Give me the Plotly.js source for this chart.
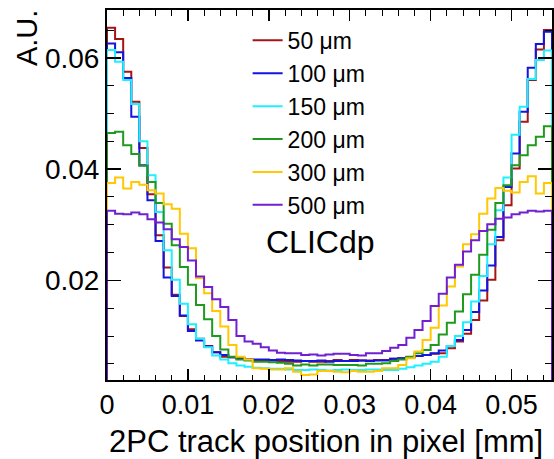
<!DOCTYPE html>
<html>
<head>
<meta charset="utf-8">
<script src="https://cdn.plot.ly/plotly-3.0.1.min.js"></script>
<style>html,body{margin:0;padding:0;background:#fff;}#chart{width:554px;height:459px;}</style>
</head>
<body>
<div id="chart"></div>
<script>
// Histogram: 55 bins of 1 um across a 55 um pixel (x in mm)
const nBins = 55;
const binWidth = 0.001;
const seriesLabels = ["50 \u03bcm", "100 \u03bcm", "150 \u03bcm", "200 \u03bcm", "300 \u03bcm", "500 \u03bcm"];
const seriesColors = ["#a51515", "#1414e0", "#1ef0ff", "#1f9a1f", "#ffc800", "#7020d0"];

const h50 = [0.0654,0.0634,0.0575,0.0521,0.0438,0.0355,0.0281,0.0223,0.0174,0.0136,
  0.0112,0.0095,0.0082,0.0071,0.0063,0.0062,0.0060,0.0058,0.0057,0.0056,
  0.0056,0.0055,0.0054,0.0054,0.0055,0.0054,0.0054,0.0055,0.0057,0.0055,
  0.0057,0.0056,0.0056,0.0057,0.0057,0.0059,0.0060,0.0062,0.0064,0.0066,
  0.0068,0.0069,0.0078,0.0090,0.0104,0.0129,0.0164,0.0201,0.0272,0.0335,
  0.0401,0.0485,0.0560,0.0615,0.0650];
const h100 = [0.0626,0.0610,0.0564,0.0494,0.0407,0.0344,0.0271,0.0205,0.0172,0.0137,
  0.0109,0.0092,0.0081,0.0071,0.0066,0.0062,0.0060,0.0058,0.0058,0.0058,
  0.0057,0.0058,0.0057,0.0056,0.0055,0.0055,0.0056,0.0054,0.0055,0.0055,
  0.0055,0.0056,0.0055,0.0056,0.0056,0.0059,0.0060,0.0062,0.0064,0.0066,
  0.0069,0.0074,0.0082,0.0093,0.0111,0.0143,0.0182,0.0227,0.0278,0.0368,
  0.0428,0.0503,0.0582,0.0625,0.0647];
const h150 = [0.0614,0.0593,0.0560,0.0517,0.0450,0.0389,0.0323,0.0254,0.0201,0.0158,
  0.0121,0.0095,0.0080,0.0065,0.0058,0.0051,0.0047,0.0045,0.0043,0.0042,
  0.0041,0.0041,0.0040,0.0039,0.0039,0.0040,0.0039,0.0038,0.0039,0.0040,
  0.0039,0.0039,0.0040,0.0040,0.0039,0.0039,0.0041,0.0044,0.0047,0.0050,
  0.0054,0.0063,0.0082,0.0100,0.0125,0.0162,0.0208,0.0265,0.0326,0.0385,
  0.0462,0.0512,0.0562,0.0596,0.0613];
const h200 = [0.0465,0.0467,0.0443,0.0427,0.0406,0.0377,0.0339,0.0302,0.0263,0.0224,
  0.0192,0.0156,0.0130,0.0100,0.0076,0.0063,0.0058,0.0056,0.0054,0.0054,
  0.0053,0.0052,0.0050,0.0047,0.0049,0.0047,0.0049,0.0049,0.0048,0.0048,
  0.0048,0.0047,0.0050,0.0050,0.0051,0.0055,0.0058,0.0063,0.0069,0.0075,
  0.0084,0.0103,0.0124,0.0144,0.0175,0.0210,0.0246,0.0291,0.0339,0.0371,
  0.0407,0.0425,0.0443,0.0458,0.0477];
const h300 = [0.0375,0.0385,0.0365,0.0377,0.0372,0.0362,0.0356,0.0337,0.0329,0.0284,
  0.0258,0.0204,0.0177,0.0145,0.0117,0.0084,0.0063,0.0058,0.0042,0.0041,
  0.0040,0.0040,0.0042,0.0036,0.0030,0.0031,0.0037,0.0037,0.0036,0.0035,
  0.0037,0.0036,0.0036,0.0037,0.0042,0.0042,0.0048,0.0060,0.0072,0.0093,
  0.0115,0.0155,0.0189,0.0225,0.0265,0.0283,0.0320,0.0347,0.0366,0.0361,
  0.0358,0.0377,0.0387,0.0356,0.0375];
const h500 = [0.0325,0.0320,0.0319,0.0322,0.0319,0.0310,0.0304,0.0292,0.0274,0.0260,
  0.0236,0.0207,0.0188,0.0166,0.0152,0.0129,0.0100,0.0090,0.0086,0.0080,
  0.0074,0.0070,0.0069,0.0069,0.0066,0.0067,0.0065,0.0067,0.0068,0.0068,
  0.0066,0.0065,0.0069,0.0069,0.0073,0.0079,0.0084,0.0097,0.0111,0.0127,
  0.0154,0.0176,0.0205,0.0228,0.0252,0.0272,0.0289,0.0301,0.0311,0.0313,
  0.0319,0.0322,0.0325,0.0324,0.0325];

const xTickVals = [0, 0.01, 0.02, 0.03, 0.04, 0.05];
const xTickText = ["0", "0.01", "0.02", "0.03", "0.04", "0.05"];
const yTickVals = [0.02, 0.04, 0.06];
const yTickText = ["0.02", "0.04", "0.06"];

const allSeries = [h50, h100, h150, h200, h300, h500];

// build ROOT-like step outline from the bin edges
function stepTrace(vals, name, color) {
  const xs = [0];
  const ys = [0];
  for (let i = 0; i < vals.length; i++) {
    xs.push(i * binWidth);
    ys.push(vals[i]);
  }
  xs.push(vals.length * binWidth); ys.push(vals[vals.length - 1]);
  xs.push(vals.length * binWidth); ys.push(0);
  return {x: xs, y: ys, type: 'scatter', mode: 'lines', name: name,
          line: {shape: 'hv', color: color, width: 2}};
}

const traces = allSeries.map((s, i) => stepTrace(s, seriesLabels[i], seriesColors[i]));

const font = "Liberation Sans, Arial, Helvetica, sans-serif";
const layout = {
  width: 554, height: 459,
  margin: {l: 107, r: 2, t: 10, b: 79},
  paper_bgcolor: '#fff', plot_bgcolor: '#fff',
  showlegend: true,
  legend: {x: 0.316, y: 0.976, xanchor: 'left', yanchor: 'top',
           font: {family: font, size: 23, color: '#000'},
           bgcolor: 'rgba(0,0,0,0)', tracegroupgap: 0},
  xaxis: {range: [0, nBins * binWidth], tickvals: xTickVals, ticktext: xTickText,
          ticks: 'inside', ticklen: 11, tickwidth: 1.5, tickcolor: '#000',
          minor: {dtick: 0.002, ticks: 'inside', ticklen: 5.5, tickwidth: 1, tickcolor: '#000'},
          showline: true, linecolor: '#000', linewidth: 2, mirror: 'allticks',
          showgrid: false, zeroline: false,
          tickfont: {family: font, size: 27, color: '#000'}},
  yaxis: {range: [0.0021, 0.0686], tickvals: yTickVals, ticktext: yTickText,
          ticks: 'inside', ticklen: 14, tickwidth: 1.5, tickcolor: '#000',
          minor: {dtick: 0.005, ticks: 'inside', ticklen: 7, tickwidth: 1, tickcolor: '#000'},
          showline: true, linecolor: '#000', linewidth: 2, mirror: 'allticks',
          showgrid: false, zeroline: false,
          tickfont: {family: font, size: 28, color: '#000'}},
  annotations: [
    {text: '2PC track position in pixel [mm]', xref: 'paper', yref: 'paper',
     x: 0.985, y: -0.165, xanchor: 'right', yanchor: 'middle', showarrow: false,
     font: {family: font, size: 31, color: '#000'}},
    {text: 'A.U.', xref: 'paper', yref: 'paper', textangle: -90,
     x: -0.18, y: 1.005, xanchor: 'center', yanchor: 'top', showarrow: false,
     font: {family: font, size: 29, color: '#000'}},
    {text: 'CLICdp', xref: 'paper', yref: 'paper',
     x: 0.4787, y: 0.373, xanchor: 'center', yanchor: 'middle', showarrow: false,
     font: {family: font, size: 32, color: '#000'}}
  ]
};

Plotly.newPlot('chart', traces, layout, {displayModeBar: false, staticPlot: true});
</script>
</body>
</html>
